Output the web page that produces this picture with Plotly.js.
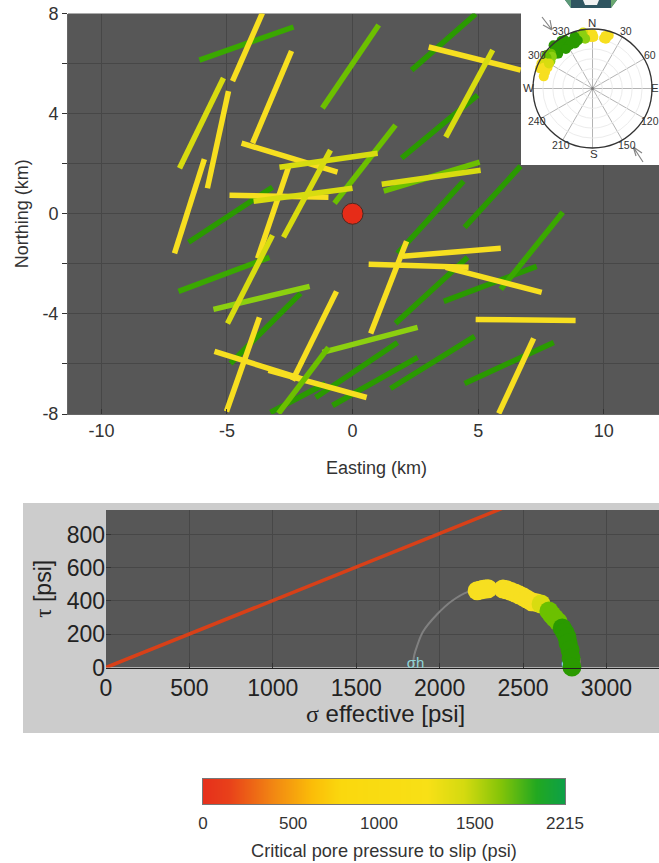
<!DOCTYPE html>
<html><head><meta charset="utf-8">
<script src="https://cdn.plot.ly/plotly-3.0.1.min.js"></script>
<style>html,body{margin:0;padding:0;background:#fff;overflow:hidden}</style>
</head><body><div id="chart" style="width:659px;height:863px"></div>
<script>
// Fault segments in map coordinates (km), grouped by colour
const DG='#2a9a00', MG='#3aa800', LG='#6cc000', LM='#8cd010', YG='#d8dc10', Y='#f7df20';
const segColor=[DG,MG,DG,MG,DG,DG,DG,DG,DG,DG,DG,DG,MG,DG,DG,DG,
  LM,Y,Y,Y,Y,Y,Y,Y,Y,Y,Y,Y,Y,Y,Y,Y,Y,Y,Y,
  LG,LG,LG,LM,LG,YG,YG,YG,YG,YG,YG,YG];
const segX0=[-6.53,-6.10,-4.86,-6.93,-3.27,-1.47,-0.80,1.51,4.46,1.71,3.63,4.46,5.90,1.79,1.95,2.35,
  -1.20,-4.78,-3.98,-5.78,-7.09,-4.42,-4.90,-2.55,-5.02,-5.50,-3.35,-2.39,5.82,4.90,0.72,1.99,0.64,3.71,3.03,
  -2.95,-0.72,-1.20,-5.54,1.24,-6.89,-2.91,-3.94,-2.75,-3.19,1.16,3.71];
const segY0=[-1.14,6.14,-5.98,-3.10,-7.94,-7.34,-7.66,-6.98,-6.78,-4.38,-3.50,-0.54,-3.02,-1.58,2.22,5.74,
  -5.54,5.30,2.82,1.02,-1.58,2.82,0.74,1.86,-7.90,-5.50,-6.26,-6.66,-7.98,-4.22,-4.78,-1.70,-2.02,-2.14,6.66,
  -7.98,0.42,4.22,-3.82,0.90,1.82,1.86,0.50,-0.94,-0.86,1.18,3.06];
const segX1=[-3.19,-2.35,-2.07,-3.31,-1.08,1.79,2.59,4.86,8.01,4.58,7.33,6.69,8.37,4.42,4.98,4.90,
  2.59,-3.59,-2.43,-4.94,-5.90,-0.60,-0.96,-3.78,-3.71,-1.95,0.56,-0.64,7.21,8.88,2.15,5.90,4.62,7.53,6.69,
  -0.96,1.71,1.04,-1.71,5.06,-5.14,1.00,0.00,-0.88,-4.98,5.10,5.58];
const segY1=[1.06,7.46,-3.18,-1.74,-6.78,-5.14,-5.74,-4.90,-5.14,-1.74,-2.10,1.90,0.06,1.30,4.74,7.98,
  -4.54,8.02,6.50,4.90,2.18,1.66,0.66,-1.78,-4.14,-6.62,-7.34,-3.10,-4.98,-4.26,-1.10,-1.38,-2.14,-3.14,5.74,
  -5.34,3.54,7.54,-2.90,2.06,5.42,2.42,1.02,2.54,-4.38,1.74,6.54];
const wellX=[0], wellY=[0];

// Stereonet poles
const poleTheta=[14,15,13,17,360,356,358,1,350.5,351.6,346,349,341,338.6,343,336,330,327,325,332,318,315.5,314,319,322,326,316,310,306,308,303,304,291,295,296,289,284,298,293,300];
const poleR=[82,78,78,84,82,82,78,78,86,76,79,84,83,73,76,78,84.5,86,76,74,88,74,76,78,84,72,82,82,86,78,76,84,85,75,86,76,76,82,80,76];
const poleColor=[Y,Y,Y,Y,Y,Y,Y,Y,YG,LM,LM,LM,DG,DG,DG,DG,DG,DG,DG,DG,DG,DG,DG,DG,DG,DG,DG,LG,LG,LM,LM,LG,Y,Y,Y,Y,Y,YG,Y,YG];
const compassVals=[0,30,60,90,120,150,180,210,240,270,300,330];
const compassText=['N','30','60','E','120','150','S','210','240','W','300','330'];

// Mohr diagram
const failSigma=[0,2400], failTau=[0,967];
const arcSigma=[1838,1848,1865,1900,1985,2073,2170,2250];
const arcTau=[0,75,130,215,320,400,455,470];
const mohrSigma=[2225,2245,2262,2275,2290,2380,2400,2425,2452,2475,2500,2525,2552,2580,2608,2655,2673,2690,2710,2735,2750,2763,2770,2782,2788,2793];
const mohrTau=[462,466,470,472,474,472,468,458,448,437,425,410,395,390,382,340,316,296,275,237,212,184,147,105,57,3];
const mohrColor=[Y,Y,Y,Y,Y,Y,Y,Y,Y,Y,Y,Y,Y,Y,YG,LG,LG,LG,LG,DG,DG,DG,DG,DG,DG,DG];

// Colour bar
const barPos=[0,0.05,0.1,0.15,0.2,0.25,0.3,0.35,0.4,0.45,0.5,0.55,0.6,0.65,0.7,0.75,0.8,0.85,0.9,0.95,1];
const barScale=[[0,'#e6301c'],[0.07,'#e8401a'],[0.2,'#f28a12'],[0.3,'#fbbd08'],[0.38,'#fad80e'],[0.62,'#f8e016'],[0.72,'#d4da10'],[0.82,'#84c408'],[0.92,'#22a820'],[1,'#0ca048']];
const barTickVals=[0,0.249,0.486,0.751,1];
const barTickText=['0','500','1000','1500','2215'];
const compassPx=[[592,23],[626,31],[650,55],[655,88],[650,121],[627,145],[594,154],[561,145],[537,121],[528,88],[537,55],[561,31]];
const W=659,H=863;
const px=x=>x/W, py=y=>1-y/H;

const traces=[];
segColor.forEach((c,i)=>traces.push({type:'scatter',mode:'lines',x:[segX0[i],segX1[i]],y:[segY0[i],segY1[i]],
  line:{color:c,width:5.5},hoverinfo:'skip',showlegend:false}));
traces.push({type:'scatter',mode:'markers',x:wellX,y:wellY,marker:{size:21,color:'#e62c18',line:{color:'#4a2a22',width:1}},showlegend:false});
// white inset backing
traces.push({type:'scatter',mode:'lines',x:[0,1,1,0,0],y:[0,0,1,1,0],xaxis:'x4',yaxis:'y4',fill:'toself',fillcolor:'#ffffff',line:{width:0,color:'#ffffff'},hoverinfo:'skip',showlegend:false});
traces.push({type:'scatterpolar',mode:'markers',theta:[0],r:[0],subplot:'polar',marker:{size:3,color:'#777'},showlegend:false});
traces.push({type:'scatterpolar',mode:'markers',theta:poleTheta,r:poleR,subplot:'polar',marker:{size:10,color:poleColor},showlegend:false});
// Mohr
traces.push({type:'scatter',mode:'lines',x:failSigma,y:failTau,xaxis:'x2',yaxis:'y2',line:{color:'#d84018',width:3.5},showlegend:false});
traces.push({type:'scatter',mode:'lines',x:arcSigma,y:arcTau,xaxis:'x2',yaxis:'y2',line:{color:'#808080',width:2,shape:'spline'},showlegend:false});
traces.push({type:'scatter',mode:'text',x:[1855,2790],y:[22,22],text:['σh','σH'],textfont:{family:'Liberation Sans',size:15,color:'#8fd4d8'},xaxis:'x2',yaxis:'y2',cliponaxis:false,showlegend:false});
traces.push({type:'scatter',mode:'markers',x:mohrSigma,y:mohrTau,xaxis:'x2',yaxis:'y2',cliponaxis:false,marker:{size:19,color:mohrColor},showlegend:false});
// Colour bar
traces.push({type:'heatmap',x:barPos,y:[0,1],z:[barPos,barPos],xaxis:'x3',yaxis:'y3',colorscale:barScale,zmin:0,zmax:1,zsmooth:'best',showscale:false,hoverinfo:'skip'});

const sans='"Liberation Sans",Arial,sans-serif';
const grid='#474747', bg='#575757';
const path=(pts)=>pts.map((p,i)=>(p[2]?'M':(i?'L':'M'))+px(p[0])+','+py(p[1])).join(' ');
const arrow=(d)=>({type:'path',xref:'paper',yref:'paper',path:d,line:{color:'#858585',width:1.2},layer:'above'});
const annotations=compassText.map((t,i)=>({xref:'paper',yref:'paper',x:px(compassPx[i][0]),y:py(compassPx[i][1]),text:t,showarrow:false,xanchor:'center',yanchor:'middle',font:{size:t.length>1&&!isNaN(t)?10.5:11.5,color:'#333'}}));
annotations.push({xref:'paper',yref:'paper',x:px(376.5),y:py(468),text:'Easting (km)',showarrow:false,xanchor:'center',yanchor:'middle',font:{size:18,color:'#333'}});
annotations.push({xref:'paper',yref:'paper',x:px(385),y:py(713),text:'<span style="font-family:Liberation Serif">σ</span> effective [psi]',showarrow:false,xanchor:'center',yanchor:'middle',font:{size:24,color:'#222'}});
annotations.push({xref:'paper',yref:'paper',x:px(384),y:py(851),text:'Critical pore pressure to slip (psi)',showarrow:false,xanchor:'center',yanchor:'middle',font:{size:18.2,color:'#333'}});
const layout={width:W,height:H,margin:{l:0,r:0,t:0,b:0},paper_bgcolor:'#fff',plot_bgcolor:bg,showlegend:false,
 font:{family:sans,color:'#333'},
 xaxis:{domain:[px(68),1],range:[-11.33,12.2],tickvals:[-10,-5,0,5,10],ticktext:['-10','-5','0','5','10'],gridcolor:grid,gridwidth:1,zeroline:false,ticks:'inside',ticklen:5,tickcolor:'#333',showline:true,linecolor:'#666',tickfont:{size:18,color:'#333'},anchor:'y'},
 yaxis:{domain:[py(414),py(13.5)],range:[-8,8],tickvals:[-8,-6,-4,-2,0,2,4,6,8],ticktext:['-8','','-4','','0','','4','','8'],gridcolor:grid,zeroline:false,ticks:'outside',ticklen:5,tickcolor:'#333',showline:true,linecolor:'#666',tickfont:{size:18,color:'#333'},
   title:{text:'Northing (km)',font:{size:18,color:'#333'},standoff:9},anchor:'x'},
 xaxis2:{domain:[px(106),1],range:[0,3315],tickvals:[0,500,1000,1500,2000,2500,3000],gridcolor:grid,zeroline:false,ticks:'inside',ticklen:5,tickcolor:'#333',showline:true,linecolor:'#222',tickfont:{size:23,color:'#222'},anchor:'y2'},
 yaxis2:{domain:[py(667.5),py(510)],range:[0,947],tickvals:[0,200,400,600,800],gridcolor:grid,zeroline:false,ticks:'inside',ticklen:5,tickcolor:'#333',showline:false,tickfont:{size:23,color:'#222'},
   title:{text:'<span style="font-family:Liberation Serif">τ</span> [psi]',font:{size:23,color:'#222'},standoff:8},anchor:'x2'},
 xaxis3:{domain:[px(203),px(565)],range:[0,1],tickvals:barTickVals,ticktext:barTickText,ticks:'outside',ticklen:4,tickcolor:'rgba(0,0,0,0)',showgrid:false,zeroline:false,tickfont:{size:17,color:'#333'},anchor:'y3',showline:true,linecolor:'#777',mirror:true},
 yaxis3:{domain:[py(804),py(779)],range:[0,1],showticklabels:false,ticks:'',showgrid:false,zeroline:false,anchor:'x3',showline:true,linecolor:'#777',mirror:true},
 xaxis4:{domain:[px(521),1],range:[0,1],visible:false,fixedrange:true,anchor:'y4'},
 yaxis4:{domain:[py(165),1],range:[0,1],visible:false,fixedrange:true,anchor:'x4'},
 polar:{domain:{x:[px(533),px(652)],y:[py(148),py(29)]},bgcolor:'rgba(0,0,0,0)',
   angularaxis:{rotation:90,direction:'clockwise',tickmode:'array',tickvals:compassVals,showticklabels:false,ticks:'',gridcolor:'#b4b4b4',linecolor:'#333',linewidth:1.3},
   radialaxis:{range:[0,90],tickvals:[15,30,45,60,75],showticklabels:false,ticks:'',gridcolor:'#ececec',showline:false}},
 shapes:[{type:'rect',xref:'paper',yref:'paper',x0:px(23),x1:1,y0:py(733),y1:py(503),fillcolor:'#cccccc',line:{width:0},layer:'below'},
   {type:'rect',xref:'x2',yref:'y2',x0:0,x1:3315,y0:0,y1:947,fillcolor:bg,line:{width:0},layer:'below'},
   {type:'path',xref:'paper',yref:'paper',path:path([[565,0],[617,0],[611,8],[571,8]])+' Z',fillcolor:'#2f5560',line:{width:0},layer:'above'},
   {type:'path',xref:'paper',yref:'paper',path:path([[565,0],[571,0],[571,8]])+' Z',fillcolor:'#5c9a78',line:{width:0},layer:'above'},
   {type:'path',xref:'paper',yref:'paper',path:path([[617,0],[611,0],[611,8]])+' Z',fillcolor:'#6aa870',line:{width:0},layer:'above'},
   {type:'path',xref:'paper',yref:'paper',path:path([[583,0],[599,0],[597,5],[585,5]])+' Z',fillcolor:'#f2f2f2',line:{width:0},layer:'above'},
   arrow(path([[542,17],[552,30],[550,20,1],[552,30],[543,25,1],[552,30]])),
   arrow(path([[643,162],[633.3,147],[636,156,1],[633.3,147],[642,153,1],[633.3,147]]))],
 annotations:annotations
};
Plotly.newPlot('chart',traces,layout,{staticPlot:true,displayModeBar:false});
</script></body></html>
